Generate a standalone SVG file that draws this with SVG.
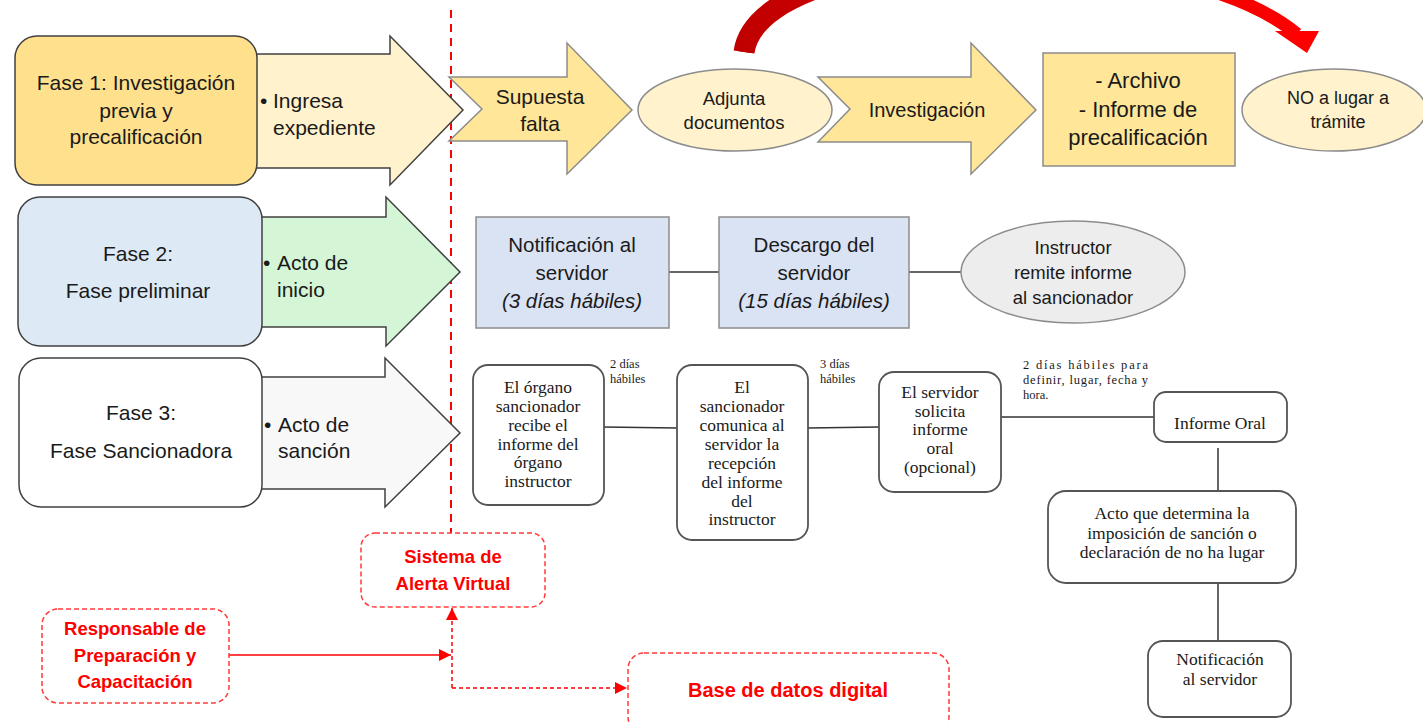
<svg xmlns="http://www.w3.org/2000/svg" width="1423" height="723" viewBox="0 0 1423 723">
<defs>
<linearGradient id="redArc" gradientUnits="userSpaceOnUse" x1="740" y1="0" x2="1310" y2="0">
<stop offset="0" stop-color="#C00000"/><stop offset="1" stop-color="#FF0000"/>
</linearGradient>
<marker id="redTri" markerWidth="12" markerHeight="12" refX="10" refY="5" orient="auto" markerUnits="userSpaceOnUse" viewBox="0 0 10 10">
<path d="M0,0 L10,5 L0,10 z" fill="#FF0000"/>
</marker>
</defs>
<style>
.sans{font-family:"Liberation Sans",Arial,sans-serif;fill:#1a1a1a;text-anchor:middle}
.left{text-anchor:start}
.serif{font-family:"Liberation Serif","Times New Roman",serif;fill:#1a1a1a;text-anchor:middle;font-size:17.5px}
.lbl{font-family:"Liberation Serif","Times New Roman",serif;fill:#1a1a1a;font-size:12.5px}
.red{font-family:"Liberation Sans",Arial,sans-serif;font-weight:bold;fill:#FF0000;text-anchor:middle}
.phase{stroke:#404040;stroke-width:1.5}
.shape{stroke:#8C8C8C;stroke-width:1.5}
.sbox{fill:#ffffff;stroke:#555555;stroke-width:1.8}
.dash{fill:#ffffff;stroke:#FF3B3B;stroke-width:1.5;stroke-dasharray:5 3}
.conn{stroke:#333333;stroke-width:1.5;fill:none}
.rconn{stroke:#FF0000;stroke-width:1.5;fill:none}
.arc{fill:none;stroke:url(#redArc)}
</style>

<g id="connectors">
<line class="conn" x1="669" y1="272" x2="719" y2="272"/>
<line class="conn" x1="909" y1="272" x2="961" y2="272"/>
<line class="conn" x1="604" y1="427" x2="677" y2="428"/>
<line class="conn" x1="808" y1="428" x2="879" y2="427"/>
<line class="conn" x1="1001" y1="417" x2="1155" y2="417"/>
<line class="conn" x1="1218" y1="448" x2="1218" y2="491"/>
<line class="conn" x1="1218" y1="583" x2="1218" y2="641"/>
<line x1="451" y1="10" x2="451" y2="533" stroke="#FF0000" stroke-width="2" stroke-dasharray="8 6"/>
<line class="rconn" x1="229" y1="655" x2="451" y2="655" marker-end="url(#redTri)"/>
<path class="rconn" d="M452,688 L452,608" stroke-dasharray="4 3" marker-end="url(#redTri)"/>
<path class="rconn" d="M452,688 L627,688" stroke-dasharray="4 3" marker-end="url(#redTri)"/>
<path class="arc" d="M744,52 C760,-60 1170,-70 1297,34" stroke-width="13"/>
<path class="arc" d="M744,52 C748.8,18.4 789.1,-6 846.5,-20.9" stroke-width="21"/>
<polygon points="1275,31 1319,31 1307,53" fill="#FF0000"/>
</g>

<g id="fase1">
<polygon class="phase" points="250,54 390,54 390,36 463,110 390,185 390,168 250,168" fill="#FFF2CC"/>
<rect class="phase" x="15" y="36" width="242" height="149" rx="22" fill="#FFE08C"/>
<text class="sans" font-size="21" x="136" y="90">Fase 1: Investigación</text>
<text class="sans" font-size="21" x="136" y="118">previa y</text>
<text class="sans" font-size="21" x="136" y="144">precalificación</text>
<text class="sans left" font-size="21" x="260" y="108">•</text>
<text class="sans left" font-size="21" x="273" y="108">Ingresa</text>
<text class="sans left" font-size="21" x="273" y="135">expediente</text>
</g>

<g id="supuesta">
<polygon class="shape" points="449,77 567,77 567,43 632,110 567,174 567,141 449,141 482,109" fill="#FFE699"/>
<text class="sans" font-size="21" x="540" y="104">Supuesta</text>
<text class="sans" font-size="21" x="540" y="131">falta</text>
</g>

<g id="adjunta">
<ellipse class="shape" cx="735" cy="110" rx="97" ry="41" fill="#FFF2CC"/>
<text class="sans" font-size="18.5" x="734" y="105">Adjunta</text>
<text class="sans" font-size="18.5" x="734" y="129">documentos</text>
</g>

<g id="investigacion">
<polygon class="shape" points="818,77 971,77 971,43 1036,110 971,174 971,142 818,142 850,109" fill="#FFE699"/>
<text class="sans" font-size="20" x="927" y="117">Investigación</text>
</g>

<g id="archivo">
<rect class="shape" x="1043" y="53" width="192" height="113" fill="#FFE699"/>
<text class="sans" font-size="22" x="1138" y="88">- Archivo</text>
<text class="sans" font-size="22" x="1138" y="117">- Informe de</text>
<text class="sans" font-size="22" x="1138" y="145">precalificación</text>
</g>

<g id="nolugar">
<ellipse class="shape" cx="1334" cy="110" rx="92" ry="41" fill="#FFF2CC"/>
<text class="sans" font-size="18" x="1338" y="104">NO a lugar a</text>
<text class="sans" font-size="18" x="1338" y="128">trámite</text>
</g>

<g id="fase2">
<polygon class="phase" points="255,217 386,217 386,197 460,272 386,346 386,327 255,327" fill="#D4F5D6"/>
<rect class="phase" x="18" y="197" width="244" height="149" rx="22" fill="#DDE9F5"/>
<text class="sans" font-size="21" x="138" y="261">Fase 2:</text>
<text class="sans" font-size="21" x="138" y="298">Fase preliminar</text>
<text class="sans left" font-size="21" x="263" y="270">•</text>
<text class="sans left" font-size="21" x="277" y="270">Acto de</text>
<text class="sans left" font-size="21" x="277" y="297">inicio</text>
</g>

<g id="notificacion">
<rect class="shape" x="476" y="217" width="193" height="111" fill="#DAE3F3"/>
<text class="sans" font-size="20.5" x="572" y="252">Notificación al</text>
<text class="sans" font-size="20.5" x="572" y="280">servidor</text>
<text class="sans" font-size="20.5" x="572" y="308" font-style="italic">(3 días hábiles)</text>
</g>

<g id="descargo">
<rect class="shape" x="719" y="217" width="190" height="111" fill="#DAE3F3"/>
<text class="sans" font-size="20.5" x="814" y="252">Descargo del</text>
<text class="sans" font-size="20.5" x="814" y="280">servidor</text>
<text class="sans" font-size="20.5" x="814" y="308" font-style="italic">(15 días hábiles)</text>
</g>

<g id="instructor">
<ellipse class="shape" cx="1073" cy="272" rx="112" ry="51" fill="#EDEDED"/>
<text class="sans" font-size="18.5" x="1073" y="254">Instructor</text>
<text class="sans" font-size="18.5" x="1073" y="279">remite informe</text>
<text class="sans" font-size="18.5" x="1073" y="304">al sancionador</text>
</g>

<g id="fase3">
<polygon class="phase" points="255,377 385,377 385,358 460,433 385,507 385,489 255,489" fill="#F8F8F8"/>
<rect class="phase" x="19" y="358" width="243" height="149" rx="22" fill="#FFFFFF"/>
<text class="sans" font-size="21" x="141" y="420">Fase 3:</text>
<text class="sans" font-size="21" x="141" y="458">Fase Sancionadora</text>
<text class="sans left" font-size="21" x="264" y="432">•</text>
<text class="sans left" font-size="21" x="278" y="432">Acto de</text>
<text class="sans left" font-size="21" x="278" y="458">sanción</text>
</g>

<g id="organo">
<rect class="sbox" x="473" y="365" width="131" height="140" rx="15"/>
<text class="serif" x="538" y="393">El órgano</text>
<text class="serif" x="538" y="412">sancionador</text>
<text class="serif" x="538" y="431">recibe el</text>
<text class="serif" x="538" y="450">informe del</text>
<text class="serif" x="538" y="468">órgano</text>
<text class="serif" x="538" y="487">instructor</text>
</g>

<g id="lbl1">
<text class="lbl" x="610" y="368">2 días</text>
<text class="lbl" x="610" y="383">hábiles</text>
</g>

<g id="comunica">
<rect class="sbox" x="677" y="365" width="131" height="175" rx="15"/>
<text class="serif" x="742" y="393">El</text>
<text class="serif" x="742" y="412">sancionador</text>
<text class="serif" x="742" y="431">comunica al</text>
<text class="serif" x="742" y="450">servidor la</text>
<text class="serif" x="742" y="469">recepción</text>
<text class="serif" x="742" y="488">del informe</text>
<text class="serif" x="742" y="507">del</text>
<text class="serif" x="742" y="525">instructor</text>
</g>

<g id="lbl2">
<text class="lbl" x="820" y="368">3 días</text>
<text class="lbl" x="820" y="383">hábiles</text>
</g>

<g id="solicita">
<rect class="sbox" x="879" y="372" width="122" height="120" rx="15"/>
<text class="serif" x="940" y="398">El servidor</text>
<text class="serif" x="940" y="417">solicita</text>
<text class="serif" x="940" y="435">informe</text>
<text class="serif" x="940" y="454">oral</text>
<text class="serif" x="940" y="473">(opcional)</text>
</g>

<g id="lbl3">
<text class="lbl" x="1023" y="369" textLength="125" lengthAdjust="spacing">2 días hábiles para</text>
<text class="lbl" x="1023" y="384" textLength="125" lengthAdjust="spacing">definir, lugar, fecha y</text>
<text class="lbl" x="1023" y="399">hora.</text>
</g>

<g id="informeOral">
<rect class="sbox" x="1154" y="392" width="133" height="50" rx="12"/>
<text class="serif" x="1220" y="429">Informe Oral</text>
</g>

<g id="actoSancion">
<rect class="sbox" x="1048" y="491" width="248" height="92" rx="18"/>
<text class="serif" x="1172" y="519">Acto que determina la</text>
<text class="serif" x="1172" y="539">imposición de sanción o</text>
<text class="serif" x="1172" y="558">declaración de no ha lugar</text>
</g>

<g id="notifServidor">
<rect class="sbox" x="1148" y="641" width="143" height="76" rx="15"/>
<text class="serif" x="1220" y="665">Notificación</text>
<text class="serif" x="1220" y="685">al servidor</text>
</g>

<g id="sistema">
<rect class="dash" x="361" y="533" width="184" height="74" rx="14"/>
<text class="red" font-size="18.5" x="453" y="563">Sistema de</text>
<text class="red" font-size="18.5" x="453" y="590">Alerta Virtual</text>
</g>

<g id="responsable">
<rect class="dash" x="42" y="609" width="187" height="94" rx="16"/>
<text class="red" font-size="18.5" x="135" y="635">Responsable de</text>
<text class="red" font-size="18.5" x="135" y="662">Preparación y</text>
<text class="red" font-size="18.5" x="135" y="688">Capacitación</text>
</g>

<g id="baseDatos">
<rect class="dash" x="628" y="653" width="321" height="80" rx="16"/>
<text class="red" font-size="20" x="788" y="697">Base de datos digital</text>
</g>
</svg>
